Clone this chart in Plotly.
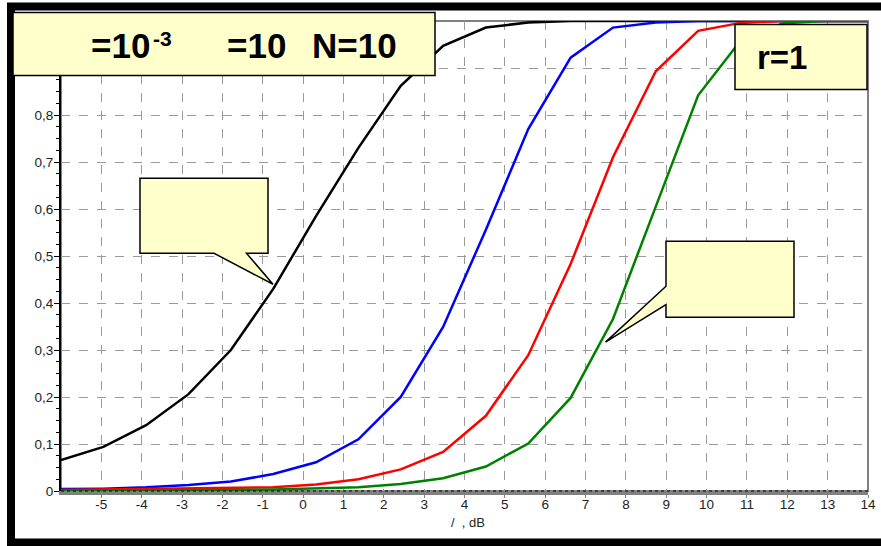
import plotly.graph_objects as go

# ---- data ----
x_db = [-6, -4.95, -3.89, -2.84, -1.79, -0.74, 0.32, 1.37, 2.42, 3.47,
        4.53, 5.58, 6.63, 7.68, 8.74, 9.79, 10.84, 11.89, 12.95, 14]
y_black = [0.066, 0.094, 0.140, 0.206, 0.300, 0.430, 0.585, 0.730, 0.862, 0.947,
           0.986, 0.997, 1.0, 1.0, 1.0, 1.0, 1.0, 1.0, 1.0, 1.0]
y_blue = [0.004, 0.005, 0.008, 0.013, 0.020, 0.036, 0.061, 0.110, 0.200, 0.349,
          0.556, 0.770, 0.922, 0.986, 0.997, 1.0, 1.0, 1.0, 1.0, 1.0]
y_red = [0.002, 0.003, 0.004, 0.005, 0.006, 0.008, 0.014, 0.025, 0.046, 0.083,
         0.160, 0.289, 0.483, 0.710, 0.893, 0.979, 0.996, 1.0, 1.0, 1.0]
y_green = [0.001, 0.001, 0.001, 0.002, 0.002, 0.003, 0.005, 0.008, 0.015, 0.027,
           0.052, 0.101, 0.198, 0.366, 0.605, 0.842, 0.958, 0.995, 1.0, 1.0]

x_tickvals = [-5, -4, -3, -2, -1, 0, 1, 2, 3, 4, 5, 6, 7, 8, 9, 10, 11, 12, 13, 14]
y_tickvals = [0, 0.1, 0.2, 0.3, 0.4, 0.5, 0.6, 0.7, 0.8, 0.9, 1.0]
y_ticktext = ["0", "0,1", "0,2", "0,3", "0,4", "0,5", "0,6", "0,7", "0,8", "0,9", "1"]

series = [
    (y_black, "#000000"),
    (y_blue, "#0000ff"),
    (y_red, "#ff0000"),
    (y_green, "#008000"),
]

# ---- layout geometry (pixels) ----
W, H = 881, 546
PL, PR, PT, PB = 61, 868, 20.5, 491


def px(x):
    return (x - PL) / (PR - PL)


def py(y):
    return (PB - y) / (PB - PT)


def path(points, close=True):
    s = "M " + " L ".join(f"{px(a):.5f},{py(b):.5f}" for a, b in points)
    return s + (" Z" if close else "")


fig = go.Figure()
for ys, col in series:
    fig.add_trace(go.Scatter(x=x_db, y=ys, mode="lines",
                             line=dict(color=col, width=2.5),
                             showlegend=False, hoverinfo="skip"))

BOX = "#ffffcc"
shapes = [
    # plot frame (grey)
    dict(type="rect", xref="paper", yref="paper", x0=0, y0=0, x1=1, y1=1,
         line=dict(color="#808080", width=2), layer="below"),
    # dotted overlay on bottom axis
    dict(type="line", xref="paper", yref="paper", x0=0, y0=py(491), x1=1, y1=py(491),
         line=dict(color="#000000", width=1.2, dash="dot"), layer="above"),
    # outer black frame (top, left, bottom), cropped at the right edge
    dict(type="path", xref="paper", yref="paper",
         path=path([(881, 6), (11, 6), (11, 542.5), (881, 542.5)], close=False),
         line=dict(color="#000000", width=8), layer="above"),
    # top-left title box
    dict(type="path", xref="paper", yref="paper",
         path=path([(13, 12), (435, 12), (435, 75), (13, 75)]),
         fillcolor=BOX, line=dict(color="#000000", width=1.5), layer="above"),
    # r=1 box
    dict(type="path", xref="paper", yref="paper",
         path=path([(735, 24), (867, 24), (867, 89), (735, 89)]),
         fillcolor=BOX, line=dict(color="#000000", width=1.5), layer="above"),
    # left callout
    dict(type="path", xref="paper", yref="paper",
         path=path([(140, 178), (268, 178), (268, 253), (246.5, 253), (273, 284),
                    (214, 253), (140, 253)]),
         fillcolor=BOX, line=dict(color="#000000", width=1.5), layer="above"),
    # right callout
    dict(type="path", xref="paper", yref="paper",
         path=path([(666, 241), (794, 241), (794, 317), (666, 317), (666, 304.5),
                    (605.5, 342), (666, 286)]),
         fillcolor=BOX, line=dict(color="#000000", width=1.5), layer="above"),
]

FAM = "Liberation Sans, Arial, sans-serif"
BIG = dict(family=FAM, size=35, color="#000000")
annotations = [
    dict(xref="paper", yref="paper", x=px(120), y=py(45), text="<b>=10</b>",
         showarrow=False, font=BIG, xanchor="center", yanchor="middle"),
    dict(xref="paper", yref="paper", x=px(162), y=py(38), text="<b>-3</b>",
         showarrow=False, font=dict(family=FAM, size=21, color="#000"),
         xanchor="center", yanchor="middle"),
    dict(xref="paper", yref="paper", x=px(256), y=py(45), text="<b>=10</b>",
         showarrow=False, font=BIG, xanchor="center", yanchor="middle"),
    dict(xref="paper", yref="paper", x=px(354), y=py(45), text="<b>N=10</b>",
         showarrow=False, font=BIG, xanchor="center", yanchor="middle"),
    dict(xref="paper", yref="paper", x=px(782), y=py(57), text="<b>r=1</b>",
         showarrow=False, font=dict(family=FAM, size=33, color="#000"),
         xanchor="center", yanchor="middle"),
    dict(xref="paper", yref="paper", x=px(468), y=py(523), text="/  , dB",
         showarrow=False, font=dict(family=FAM, size=13, color="#222"),
         xanchor="center", yanchor="middle"),
]

fig.update_layout(
    width=W, height=H, autosize=False,
    margin=dict(l=PL, r=W - PR, t=PT, b=H - PB, pad=0),
    paper_bgcolor="#ffffff", plot_bgcolor="#ffffff",
    shapes=shapes, annotations=annotations,
    font=dict(family=FAM, size=13, color="#222222"),
    xaxis=dict(range=[-6, 14], tickvals=x_tickvals, ticktext=[str(v) for v in x_tickvals],
               showgrid=True, gridcolor="#9a9a9a", griddash="dash", gridwidth=1,
               showline=True, linecolor="#808080", linewidth=4,
               ticks="outside", ticklen=3, tickcolor="#808080", zeroline=False,
               tickfont=dict(size=13.5), automargin=False, ticklabelstandoff=-5),
    yaxis=dict(range=[0, 1.0], tickvals=y_tickvals, ticktext=y_ticktext,
               showgrid=True, gridcolor="#9a9a9a", griddash="dash", gridwidth=1,
               showline=True, linecolor="#000000", linewidth=2,
               ticks="outside", ticklen=5, tickcolor="#000000", zeroline=False,
               tickfont=dict(size=13.5), automargin=False, ticklabelstandoff=-2,
               minor=dict(dtick=0.025, ticks="outside", ticklen=3, tickcolor="#000000",
                          showgrid=False)),
)

fig.write_html("out.html", config={"responsive": False})
